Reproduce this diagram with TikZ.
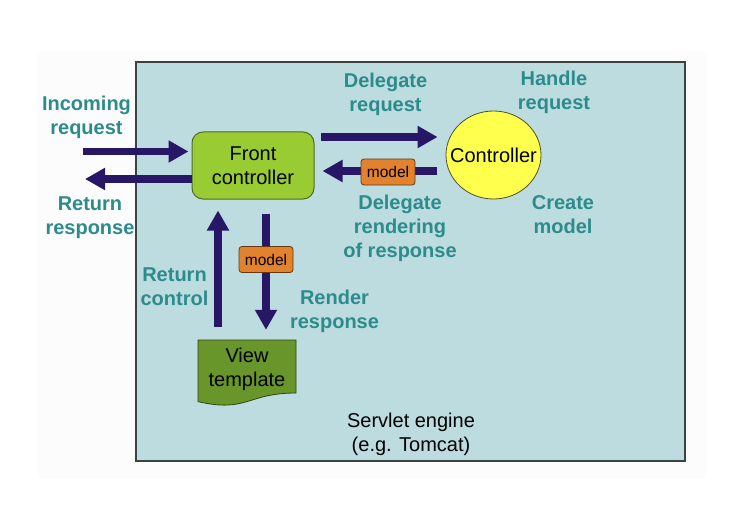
\documentclass[tikz,border=0pt]{standalone}
\usepackage{fontspec}
\setmainfont{Liberation Sans}
\usetikzlibrary{positioning,calc,shapes.geometric,arrows.meta}
\definecolor{enginefill}{RGB}{189,220,223}
\definecolor{engineedge}{RGB}{60,66,66}
\definecolor{noteteal}{RGB}{44,139,139}
\definecolor{arrownavy}{RGB}{40,22,102}
\definecolor{frontfill}{RGB}{153,204,51}
\definecolor{frontedge}{RGB}{78,108,28}
\definecolor{viewfill}{RGB}{104,150,42}
\definecolor{viewedge}{RGB}{48,68,20}
\definecolor{modelfill}{RGB}{226,130,46}
\definecolor{modeledge}{RGB}{96,58,20}
\definecolor{ctrlfill}{RGB}{255,255,77}
\definecolor{ctrledge}{RGB}{80,80,40}
\tikzset{
  engine/.style    = {draw=engineedge, line width=1.3pt, fill=enginefill},
  frontbox/.style  = {shape=rectangle, rounded corners=11pt, draw=frontedge,
                      line width=1pt, fill=frontfill, align=center,
                      minimum width=122pt, minimum height=67pt, inner sep=0pt},
  ctrlnode/.style  = {shape=ellipse, draw=ctrledge, line width=0.8pt,
                      fill=ctrlfill, minimum width=95pt, minimum height=88pt,
                      inner sep=0pt},
  modelbox/.style  = {shape=rectangle, rounded corners=3pt, draw=modeledge,
                      line width=0.8pt, fill=modelfill, minimum width=54pt,
                      minimum height=26pt, inner sep=0pt,
                      font=\fontsize{15.5}{18}\selectfont},
  viewshape/.style = {draw=viewedge, line width=0.8pt, fill=viewfill},
  viewdoc/.style   = {shape=rectangle, align=center, inner sep=0pt,
                      minimum width=98pt, minimum height=58pt},
  note/.style      = {align=center, anchor=north, inner sep=0pt, text=noteteal,
                      font=\fontsize{20}{24}\selectfont\bfseries},
  flowarrow/.style = {draw=arrownavy, line width=7.5pt,
                      -{Triangle[width=21pt,length=20pt]}}
}

\begin{document}
\begin{tikzpicture}
  [x=1pt, y=-1pt, font=\fontsize{20}{24}\selectfont]
  \useasboundingbox (0,0) rectangle (736,516);
  \fill[black!1] (38,51) rectangle (706,478);
  \draw[engine] (136,62) rectangle (685,461);
  \node[anchor=north, align=center, inner sep=0pt] (engine) at (411,413)
    {Servlet engine\\(e.g. Tomcat)};

  % boxes
  \node[frontbox] (front) at (253,165.5) {Front\\controller};
  \node[ctrlnode] (ctrl) at (493.5,155) {\makebox[0pt]{Controller}};
  \filldraw[viewshape] (198,340) -- (296,340) -- (296,393)
    .. controls (247,393) and (247,413) .. (198,401.6) -- cycle;
  \node[viewdoc] (view) at (247,369) {View\\template};

  % connectors
  \coordinate (inStart) at (83,151.5);
  \coordinate (outEnd) at (85,179);
  \draw[flowarrow, shorten >=3pt] (inStart) -- (front.west |- inStart);
  \draw[flowarrow] (front.west |- outEnd) -- (outEnd);
  \draw[flowarrow, shorten <=6pt, shorten >=8pt]
    (front.east |- 0,137) -- (ctrl.west |- 0,137);
  \draw[flowarrow, shorten <=9pt, shorten >=8pt]
    (ctrl.west |- 0,171) -- (front.east |- 0,171);
  \node[modelbox] (mdlctrl) at (388,172) {model};
  \draw[flowarrow, shorten <=13pt, shorten >=11pt]
    (view.north -| 218,0) -- (front.south -| 218,0);
  \draw[flowarrow, shorten <=14pt, shorten >=10pt]
    (front.south -| 266,0) -- (view.north -| 266,0);
  \node[modelbox] (mdlview) at (266,259.5) {model};

  % labels
  \node[note] (incoming) at (86.5,96) {Incoming\\request};
  \node[note] (returnresp) at (90,197) {Return\\response};
  \node[note] (delegreq) at (385.5,73) {Delegate\\request};
  \node[note] (handlereq) at (554,71) {Handle\\request};
  \node[note] (delegrend) at (400,195) {Delegate\\rendering\\of response};
  \node[note] (createmdl) at (563,195) {Create\\model};
  \node[note] (retctrl) at (174.5,268) {Return\\control};
  \node[note] (renderresp) at (334.5,290) {Render\\response};
\end{tikzpicture}
\end{document}
